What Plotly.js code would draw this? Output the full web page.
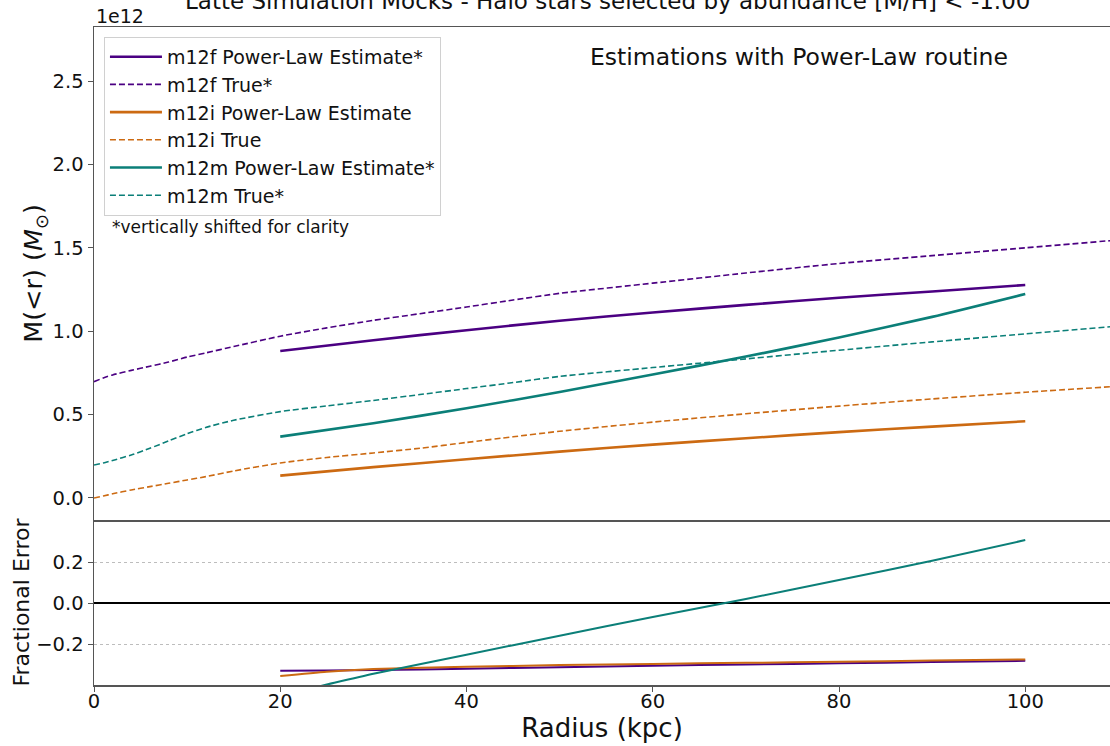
<!DOCTYPE html>
<html>
<head>
<meta charset="utf-8">
<script src="https://cdn.plot.ly/plotly-3.0.1.min.js"></script>
<style>html,body{margin:0;padding:0;background:#fff;}#chart{width:1110px;height:746px;}</style>
</head>
<body>
<div id="chart"></div>
<script>
// Masses in units of 1e12 Msun
const rTrue = [0,1,2,4,6,8,10,12,15,20,25,30,35,40,45,50,60,70,80,90,100,110];
const m12fTrue = [0.697,0.720,0.738,0.765,0.790,0.815,0.845,0.870,0.908,0.970,1.020,1.065,1.105,1.145,1.187,1.227,1.288,1.349,1.406,1.453,1.500,1.547];
const m12iTrue = [0.000,0.012,0.025,0.048,0.068,0.088,0.108,0.128,0.162,0.210,0.243,0.270,0.298,0.333,0.367,0.400,0.455,0.505,0.551,0.594,0.634,0.670];
const m12mTrue = [0.198,0.210,0.225,0.258,0.298,0.342,0.385,0.423,0.466,0.518,0.552,0.585,0.620,0.656,0.692,0.729,0.782,0.834,0.886,0.936,0.984,1.031];

const rEst = [20,30,40,50,60,70,80,90,100];
const m12fEst = [0.881,0.946,1.006,1.063,1.112,1.158,1.201,1.238,1.277];
const m12iEst = [0.134,0.185,0.232,0.278,0.320,0.358,0.395,0.428,0.460];
const m12mEst = [0.368,0.448,0.538,0.636,0.740,0.848,0.962,1.086,1.223];

const rErr = [20,25,30,40,50,60,70,80,90,100];
const m12fErr = [-0.331,-0.329,-0.327,-0.321,-0.313,-0.306,-0.300,-0.294,-0.288,-0.282];
const m12iErr = [-0.356,-0.335,-0.322,-0.311,-0.303,-0.297,-0.292,-0.287,-0.281,-0.275];
const m12mErr = [-0.452,-0.398,-0.345,-0.252,-0.160,-0.068,0.020,0.112,0.206,0.307];

const upperTicks = [0,0.5,1.0,1.5,2.0,2.5];
const lowerTicks = [-0.2,0,0.2];
const xTicks = [0,20,40,60,80,100];

const C_F = '#4b0082', C_I = '#cc6a12', C_M = '#0b7f78';
const FONT = 'DejaVu Sans, sans-serif';
const DASH = '6px,3px';

function solid(x,y,c,name,g){return {x:x,y:y,mode:'lines',name:name,legendgroup:g,line:{color:c,width:2.6,shape:'spline',smoothing:0.6},xaxis:'x',yaxis:'y'};}
function dashed(x,y,c,name,g){return {x:x,y:y,mode:'lines',name:name,legendgroup:g,line:{color:c,width:1.6,dash:DASH,shape:'spline',smoothing:0.6},xaxis:'x',yaxis:'y'};}
function err(x,y,c){return {x:x,y:y,mode:'lines',showlegend:false,line:{color:c,width:2,shape:'spline',smoothing:0.6},xaxis:'x2',yaxis:'y2'};}

const data = [
  solid(rEst,m12fEst,C_F,'m12f Power-Law Estimate*','a'),
  dashed(rTrue,m12fTrue,C_F,'m12f True*','b'),
  solid(rEst,m12iEst,C_I,'m12i Power-Law Estimate','c'),
  dashed(rTrue,m12iTrue,C_I,'m12i True','d'),
  solid(rEst,m12mEst,C_M,'m12m Power-Law Estimate*','e'),
  dashed(rTrue,m12mTrue,C_M,'m12m True*','f'),
  err(rErr,m12fErr,C_F),
  err(rErr,m12iErr,C_I),
  err(rErr,m12mErr,C_M)
];

const split = (685-520)/658;
const AX = '#555';
const TF = 19.5;
const layout = {
  width:1110, height:746,
  margin:{l:94,r:0,t:27,b:61},
  paper_bgcolor:'#fff', plot_bgcolor:'#fff',
  font:{family:FONT,size:TF,color:'#111'},
  showlegend:true,
  legend:{x:0.0098,y:0.985,xanchor:'left',yanchor:'top',bgcolor:'#fff',bordercolor:'#d0d0d0',borderwidth:1,
          font:{family:FONT,size:19,color:'#111'},traceorder:'grouped',tracegroupgap:0,itemwidth:52},
  xaxis:{domain:[0,1],anchor:'y',range:[0,109.1],showticklabels:false,ticks:'',showgrid:false,zeroline:false,
         showline:true,mirror:true,linecolor:AX,linewidth:1.5,matches:'x2'},
  yaxis:{domain:[split,1],anchor:'x',range:[-0.132,2.824],tickvals:upperTicks,tickformat:'.1f',ticks:'outside',ticklen:5,tickcolor:AX,
         showgrid:false,zeroline:false,showline:true,linecolor:AX,linewidth:1.5,tickfont:{size:TF},
         title:{text:'M(&lt;r) (<i>M</i><sub>⊙</sub>)',font:{size:25.5},standoff:2}},
  xaxis2:{domain:[0,1],anchor:'y2',range:[0,109.1],tickvals:xTicks,ticks:'outside',ticklen:5,tickcolor:AX,ticklabelstandoff:-7,
          showgrid:false,zeroline:false,showline:true,linecolor:AX,linewidth:1.5,tickfont:{size:TF},
          title:{text:'Radius (kpc)',font:{size:26},standoff:4}},
  yaxis2:{domain:[0,split],anchor:'x2',range:[-0.40,0.405],tickvals:lowerTicks,tickformat:'.1f',ticks:'outside',ticklen:5,tickcolor:AX,
          showgrid:true,gridcolor:'#bdbdbd',griddash:'dot',gridwidth:1,zeroline:true,zerolinecolor:'#000',zerolinewidth:1.3,
          showline:true,linecolor:AX,linewidth:1.5,tickfont:{size:TF},
          title:{text:'Fractional Error',font:{size:22},standoff:0}},
  annotations:[
    {text:'Latte Simulation Mocks - Halo stars selected by abundance [M/H] &lt; -1.00',xref:'paper',yref:'paper',x:(607-94)/1016,y:(685-16)/658,
     xanchor:'center',yanchor:'bottom',showarrow:false,font:{family:FONT,size:23,color:'#111'}},
    {text:'1e12',xref:'paper',yref:'paper',x:0,y:(685-16)/658,xanchor:'left',yanchor:'middle',showarrow:false,font:{family:FONT,size:19,color:'#111'}},
    {text:'Estimations with Power-Law routine',xref:'paper',yref:'paper',x:(799-94)/1016,y:(685-57)/658,xanchor:'center',yanchor:'middle',
     showarrow:false,font:{family:FONT,size:23.5,color:'#111'}},
    {text:'*vertically shifted for clarity',xref:'paper',yref:'paper',x:(110-94)/1016,y:(685-227)/658,xanchor:'left',yanchor:'middle',
     showarrow:false,font:{family:FONT,size:17,color:'#111'}}
  ]
};

Plotly.newPlot('chart',data,layout,{displayModeBar:false,staticPlot:true});
</script>
</body>
</html>
